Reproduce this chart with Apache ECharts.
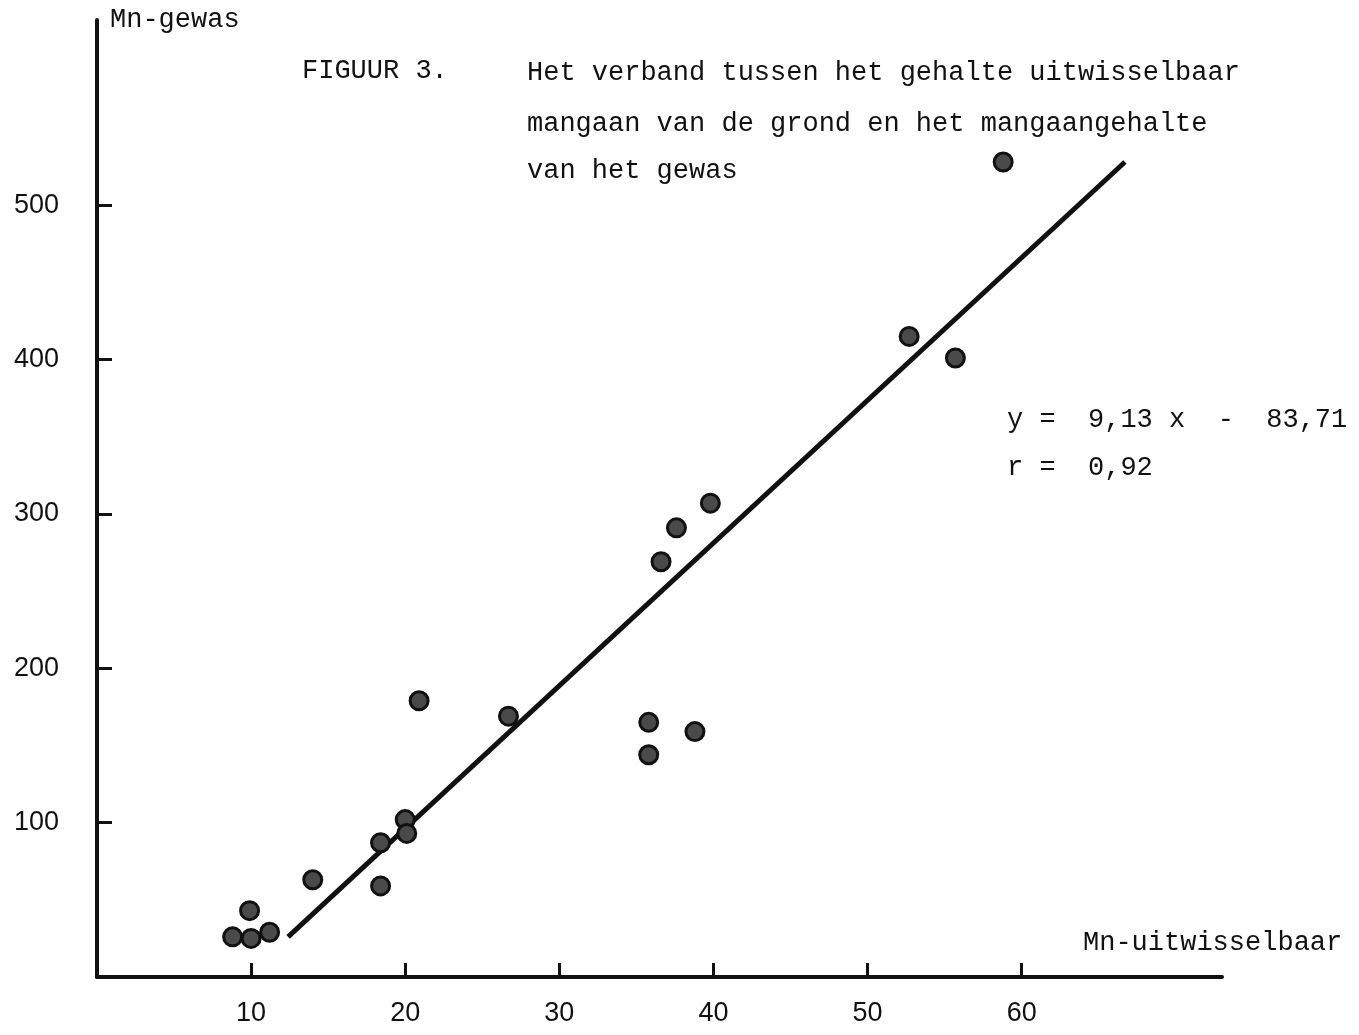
<!DOCTYPE html>
<html>
<head>
<meta charset="utf-8">
<title>Figuur 3</title>
<script src="https://cdn.jsdelivr.net/npm/echarts@6/dist/echarts.min.js"></script>
<style>
  html, body { margin: 0; padding: 0; background: #fff; }
  #chart { width: 1359px; height: 1035px; }
</style>
</head>
<body>
<div id="chart"></div>
<script>
// Mn-uitwisselbaar (x) en Mn-gewas (y)
var mnUitwisselbaar = [8.8, 9.9, 10.0, 11.2, 14.0, 18.4, 18.4, 20.0, 20.1, 20.9,
    26.7, 35.8, 35.8, 36.6, 37.6, 38.8, 39.8, 52.7, 55.7, 58.8];
var mnGewas = [26, 43, 25, 29, 63, 87, 59, 102, 93, 179,
    169, 165, 144, 269, 291, 159, 307, 415, 401, 528];

// eindpunten van de getekende regressielijn
var lijnX = [12.4, 66.7];
var lijnY = [26, 528];

var xTicks = [10, 20, 30, 40, 50, 60];
var yTicks = [100, 200, 300, 400, 500];

var titelRegels = [
    'Het verband tussen het gehalte uitwisselbaar',
    'mangaan van de grond en het mangaangehalte',
    'van het gewas'
];

var punten = mnUitwisselbaar.map(function (x, i) { return [x, mnGewas[i]]; });
var lijn = lijnX.map(function (x, i) { return [x, lijnY[i]]; });

var mono = '"Liberation Mono", "DejaVu Sans Mono", monospace';
var sans = '"Liberation Sans", Arial, sans-serif';
var ink = '#111';

// y is het midden van de regel
function tekst(x, y, s) {
    return {
        type: 'text',
        left: x,
        top: y - 14,
        style: {
            text: s,
            fill: ink,
            font: '27px ' + mono
        }
    };
}

var chart = echarts.init(document.getElementById('chart'));

chart.setOption({
    backgroundColor: '#fff',
    animation: false,
    grid: {
        left: 97,
        right: 137,
        top: 20,
        bottom: 58
    },
    xAxis: {
        type: 'value',
        min: 0,
        max: 73,
        axisLine: { lineStyle: { color: ink, width: 4 } },
        axisTick: {
            show: true,
            inside: true,
            length: 14,
            lineStyle: { color: ink, width: 3 },
            customValues: xTicks
        },
        axisLabel: {
            customValues: xTicks,
            margin: 23,
            color: ink,
            fontSize: 27,
            fontFamily: sans
        },
        splitLine: { show: false }
    },
    yAxis: {
        type: 'value',
        min: 0,
        max: 620,
        axisLine: { show: true, lineStyle: { color: ink, width: 4 } },
        axisTick: {
            show: true,
            inside: true,
            length: 15,
            lineStyle: { color: ink, width: 3 },
            customValues: yTicks
        },
        axisLabel: {
            customValues: yTicks,
            margin: 38,
            color: ink,
            fontSize: 27,
            fontFamily: sans,
            padding: [0, 0, 18, 0]
        },
        splitLine: { show: false }
    },
    series: [
        {
            name: 'regressielijn',
            type: 'line',
            data: lijn,
            symbol: 'none',
            lineStyle: { color: ink, width: 5 },
            z: 2
        },
        {
            name: 'waarnemingen',
            type: 'scatter',
            data: punten,
            symbol: 'circle',
            symbolSize: 18,
            itemStyle: {
                color: '#4a4a4a',
                borderColor: ink,
                borderWidth: 3,
                opacity: 1
            },
            z: 3
        }
    ],
    graphic: [
        tekst(110, 20, 'Mn-gewas'),
        tekst(302, 71, 'FIGUUR 3.'),
        tekst(527, 73, titelRegels[0]),
        tekst(527, 124, titelRegels[1]),
        tekst(527, 171, titelRegels[2]),
        tekst(1007, 420, 'y =  9,13 x  -  83,71'),
        tekst(1007, 468, 'r =  0,92'),
        tekst(1083, 943, 'Mn-uitwisselbaar')
    ]
});
</script>
</body>
</html>
